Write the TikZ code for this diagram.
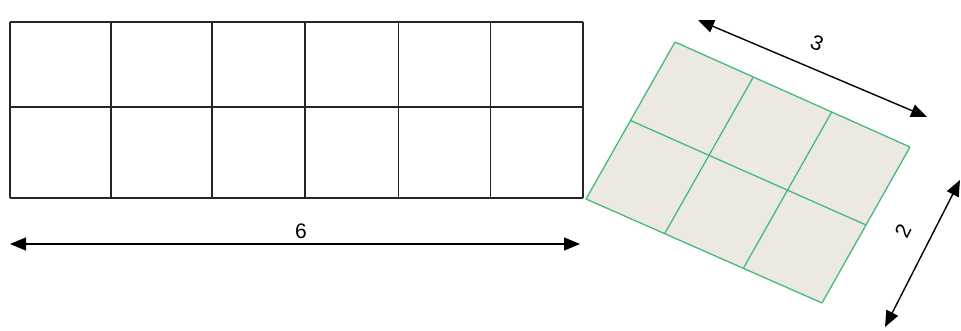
\documentclass[tikz,border=0pt]{standalone}
\usepackage{fontspec}
\setmainfont{Liberation Sans}
\usetikzlibrary{arrows.meta,calc}
\definecolor{tilegreen}{RGB}{70,185,125}
\definecolor{tilefill}{RGB}{236,233,227}

\begin{document}
\begin{tikzpicture}[x=1pt,y=-1pt,
	gridline/.style={line width=1.4pt,black!85},
	tileline/.style={line width=1.3pt,draw=tilegreen},
	dimarrow/.style={line width=1.4pt,{Triangle[length=16pt,width=13pt]}-{Triangle[length=16pt,width=13pt]}},
	dimlabel/.style={font=\fontsize{21}{22}\selectfont,inner sep=0pt}]
	\useasboundingbox (0,0) rectangle (961,331);
	% floor, 6 by 2
	\foreach \x in {10,111,212,305,398.5,490.5,583}
		\draw[gridline] (\x,22) -- (\x,198);
	\foreach \y in {22,107,198}
		\draw[gridline] (10,\y) -- (583,\y);
	\coordinate (six a) at (10,244);
	\coordinate (six b) at (580,244);
	\draw[dimarrow] (six a) -- (six b);
	\node[dimlabel] (six) at (301,231) {6};
	% tilted piece, 3 by 2
	\coordinate (tl) at (675,42);
	\coordinate (tr) at (910,147);
	\coordinate (bl) at (586,199);
	\coordinate (br) at (822,303);
	\fill[tilefill] (tl) -- (tr) -- (br) -- (bl) -- cycle;
	\foreach \t in {0,0.3333,0.6667,1}
		\draw[tileline] ($(tl)!\t!(tr)$) -- ($(bl)!\t!(br)$);
	\foreach \t in {0,0.5,1}
		\draw[tileline] ($(tl)!\t!(bl)$) -- ($(tr)!\t!(br)$);
	\coordinate (three a) at (698,20);
	\coordinate (three b) at (927,117);
	\draw[dimarrow] (three a) -- (three b);
	\node[dimlabel,rotate=-23] (three) at (817,43) {3};
	\coordinate (two a) at (960,180);
	\coordinate (two b) at (885,327);
	\draw[dimarrow] (two a) -- (two b);
	\node[dimlabel,rotate=63] (two) at (903,231) {2};
\end{tikzpicture}
\end{document}
